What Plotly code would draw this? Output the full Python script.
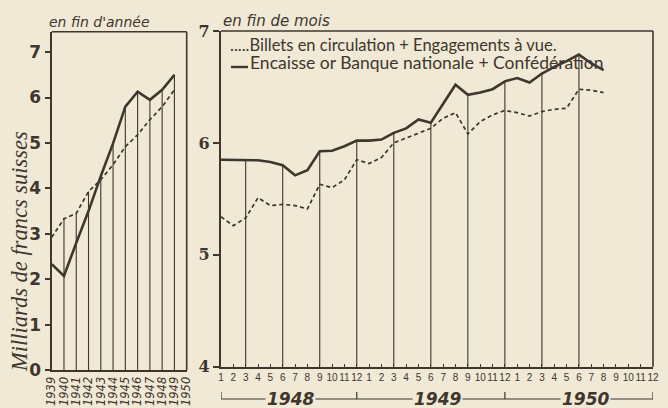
import plotly.graph_objects as go

# ---------------- data ----------------
years = [1939, 1940, 1941, 1942, 1943, 1944, 1945, 1946, 1947, 1948, 1949, 1950]
year_labels = [str(y) for y in years]
encaisse_annee = [2.33, 2.07, 2.80, 3.50, 4.27, 4.99, 5.80, 6.13, 5.95, 6.17, 6.50, None]
billets_annee = [2.92, 3.33, 3.45, 3.93, 4.19, 4.52, 4.92, 5.18, 5.51, 5.80, 6.17, None]

months = list(range(1, 37))
month_labels = [str(m) for m in range(1, 13)] * 3
encaisse_mois = [5.85, 5.85, 5.85, 5.845, 5.83, 5.80, 5.71, 5.755, 5.925, 5.93, 5.97, 6.02,
                 6.02, 6.03, 6.09, 6.13, 6.21, 6.18, 6.35, 6.52, 6.43, 6.45, 6.48, 6.55,
                 6.58, 6.54, 6.62, 6.68, 6.73, 6.79, 6.71, 6.65]
billets_mois = [5.34, 5.26, 5.33, 5.51, 5.44, 5.45, 5.44, 5.41, 5.63, 5.60, 5.67, 5.85,
                5.815, 5.87, 6.00, 6.045, 6.09, 6.13, 6.22, 6.27, 6.08, 6.19, 6.25, 6.29,
                6.27, 6.24, 6.28, 6.30, 6.31, 6.48, 6.47, 6.45]
year_names = ["1948", "1949", "1950"]

BG = "#efe9d5"
INK = "#3f362e"
W, H = 668, 408

def px_x(p):
    return p / W

def px_y(p):
    return 1 - p / H

fig = go.Figure()

# drop lines, left panel (years 1940..1949, up to higher of the two curves)
dx, dy = [], []
for i in range(1, 11):
    top = max(encaisse_annee[i], billets_annee[i])
    dx += [years[i], years[i], None]
    dy += [0, top, None]
fig.add_trace(go.Scatter(x=dx, y=dy, mode="lines", line=dict(color=INK, width=1.1),
                         xaxis="x", yaxis="y", showlegend=False, hoverinfo="skip"))

# drop lines, right panel (quarter ends)
mx, my = [], []
for k in range(3, len(encaisse_mois) + 1, 3):
    mx += [months[k - 1], months[k - 1], None]
    my += [4, encaisse_mois[k - 1], None]
fig.add_trace(go.Scatter(x=mx, y=my, mode="lines", line=dict(color=INK, width=1.1),
                         xaxis="x2", yaxis="y2", showlegend=False, hoverinfo="skip"))

# left panel curves
fig.add_trace(go.Scatter(x=years, y=billets_annee, mode="lines",
                         line=dict(color=INK, width=1.7, dash="4px,3px"),
                         xaxis="x", yaxis="y", showlegend=False))
fig.add_trace(go.Scatter(x=years, y=encaisse_annee, mode="lines",
                         line=dict(color=INK, width=2.6),
                         xaxis="x", yaxis="y", showlegend=False))

# right panel curves
fig.add_trace(go.Scatter(x=months[:len(billets_mois)], y=billets_mois, mode="lines",
                         line=dict(color=INK, width=1.7, dash="4px,3px"),
                         xaxis="x2", yaxis="y2", showlegend=False))
fig.add_trace(go.Scatter(x=months[:len(encaisse_mois)], y=encaisse_mois, mode="lines",
                         line=dict(color=INK, width=2.6),
                         xaxis="x2", yaxis="y2", showlegend=False))

axis_common = dict(showgrid=False, zeroline=False, showline=True, linecolor=INK,
                   linewidth=2.4, tickcolor=INK, automargin=False)

fig.update_layout(
    width=W, height=H, autosize=False,
    margin=dict(l=0, r=0, t=0, b=0, pad=0, autoexpand=False),
    paper_bgcolor=BG, plot_bgcolor=BG,
    font=dict(family="Lato", color=INK),
    xaxis=dict(domain=[px_x(51.7), px_x(186.7)], range=[1939, 1950],
               tickvals=years, ticktext=year_labels, tickangle=-90, ticks="",
               tickfont=dict(size=11.5, style="italic", family="DejaVu Sans"),
               anchor="y", **axis_common),
    yaxis=dict(domain=[px_y(370), px_y(31.7)], range=[0, 7.45],
               tickvals=list(range(0, 8)), ticks="outside", ticklen=5, tickwidth=1.5,
               tickfont=dict(size=17, weight="bold", family="DejaVu Sans"),
               anchor="x", **axis_common),
    xaxis2=dict(domain=[px_x(221), px_x(653)], range=[1, 36],
                tickvals=months, ticktext=month_labels, tickangle=0,
                ticks="inside", ticklen=3, tickwidth=1,
                tickfont=dict(size=10, family="Liberation Sans"),
                anchor="y2", **axis_common),
    yaxis2=dict(domain=[px_y(366.7), px_y(31)], range=[4, 7],
                tickvals=[4, 5, 6, 7], ticks="outside", ticklen=6, tickwidth=1.5,
                tickfont=dict(size=16, weight="bold", family="DejaVu Serif"),
                anchor="x2", **axis_common),
)

shapes = []
# frames (top and right edges)
for xa, ya in (("x", "y"), ("x2", "y2")):
    shapes.append(dict(type="line", xref=f"{xa} domain", yref=f"{ya} domain",
                       x0=0, x1=1, y0=1, y1=1, line=dict(color=INK, width=1.6)))
    shapes.append(dict(type="line", xref=f"{xa} domain", yref=f"{ya} domain",
                       x0=1, x1=1, y0=0, y1=1, line=dict(color=INK, width=1.6)))
# year bracket under month labels
shapes.append(dict(type="line", xref="x2", yref="paper", x0=1, x1=36,
                   y0=px_y(399), y1=px_y(399), line=dict(color=INK, width=1.2)))
for m in (1, 12, 24, 36):
    shapes.append(dict(type="line", xref="x2", yref="paper", x0=m, x1=m,
                       y0=px_y(399), y1=px_y(392), line=dict(color=INK, width=1.2)))
# legend sample for the solid line
shapes.append(dict(type="line", xref="paper", yref="paper", x0=px_x(231), x1=px_x(248),
                   y0=px_y(67), y1=px_y(67), line=dict(color=INK, width=2.4)))
fig.update_layout(shapes=shapes)

ann = []
for name, cx in zip(year_names, (6.6, 18.5, 30.5)):
    ann.append(dict(text=name, xref="x2", yref="paper", x=cx, y=px_y(399),
                    xanchor="center", yanchor="middle",
                    showarrow=False, bgcolor=BG, borderpad=1,
                    font=dict(size=17, family="DejaVu Sans", weight="bold",
                              style="italic", color=INK)))
ann.append(dict(text="en fin d'année", xref="paper", yref="paper", x=px_x(47), y=px_y(22),
                xanchor="left", yanchor="middle", showarrow=False,
                font=dict(size=14, family="DejaVu Sans", style="italic", color=INK)))
ann.append(dict(text="en fin de mois", xref="paper", yref="paper", x=px_x(221), y=px_y(21),
                xanchor="left", yanchor="middle", showarrow=False,
                font=dict(size=15, family="DejaVu Sans", style="italic", color=INK)))
ann.append(dict(text=".....Billets en circulation + Engagements à vue.",
                xref="paper", yref="paper", x=px_x(228), y=px_y(45),
                xanchor="left", yanchor="middle", showarrow=False,
                font=dict(size=16.5, family="Lato", color=INK)))
ann.append(dict(text="Encaisse or Banque nationale + Confédération",
                xref="paper", yref="paper", x=px_x(248), y=px_y(62),
                xanchor="left", yanchor="middle", showarrow=False,
                font=dict(size=17.5, family="Lato", color=INK)))
ann.append(dict(text="Milliards de francs suisses", xref="paper", yref="paper",
                x=px_x(19), y=px_y(252), xanchor="center", yanchor="middle",
                textangle=-90, showarrow=False,
                font=dict(size=22.5, family="Liberation Serif", style="italic", color=INK)))
fig.update_layout(annotations=ann)

fig.write_html(
    "out.html",
    config={"displayModeBar": False},
    post_script="document.body.style.margin='0';document.body.style.padding='0';"
                "document.body.style.background='" + BG + "';",
)
